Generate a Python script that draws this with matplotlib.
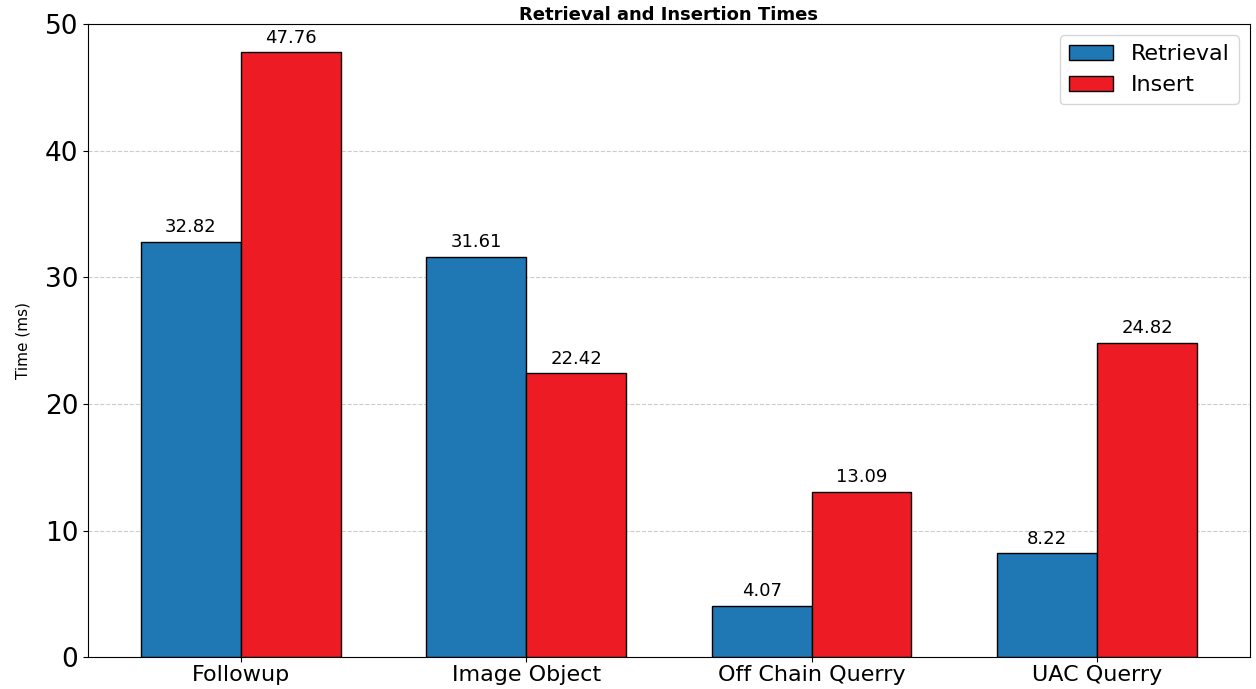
import numpy as np
import matplotlib.pyplot as plt

categories = ["Followup", "Image Object", "Off Chain Querry", "UAC Querry"]
retrieval = [32.82, 31.61, 4.07, 8.22]
insert = [47.76, 22.42, 13.09, 24.82]

x = np.arange(len(categories))
width = 0.35

fig = plt.figure(figsize=(12.56, 6.89), dpi=100)
ax = fig.add_axes([0.070, 0.046, 0.925, 0.919])

b1 = ax.bar(x - width / 2, retrieval, width, label="Retrieval",
            color="#1f77b4", edgecolor="black", linewidth=1)
b2 = ax.bar(x + width / 2, insert, width, label="Insert",
            color="#ed1c24", edgecolor="black", linewidth=1)

for bars in (b1, b2):
    for b in bars:
        ax.annotate(f"{b.get_height():.2f}",
                    xy=(b.get_x() + b.get_width() / 2, b.get_height()),
                    xytext=(0, 4), textcoords="offset points",
                    ha="center", va="bottom", fontsize=13)

ax.set_ylim(0, 50)
ax.set_xticks(x)
ax.set_xticklabels(categories, fontsize=16)
ax.tick_params(axis="x", pad=2)
ax.tick_params(axis="y", labelsize=19)
ax.set_ylabel("Time (ms)", fontsize=11, labelpad=10)
ax.set_title("Retrieval and Insertion Times", fontsize=13, fontweight="bold", pad=3)
ax.yaxis.grid(True, linestyle="--", color="#cccccc", linewidth=0.8)
ax.set_axisbelow(True)
ax.legend(fontsize=16, loc="upper right")

fig.savefig("out.png", dpi=100)
